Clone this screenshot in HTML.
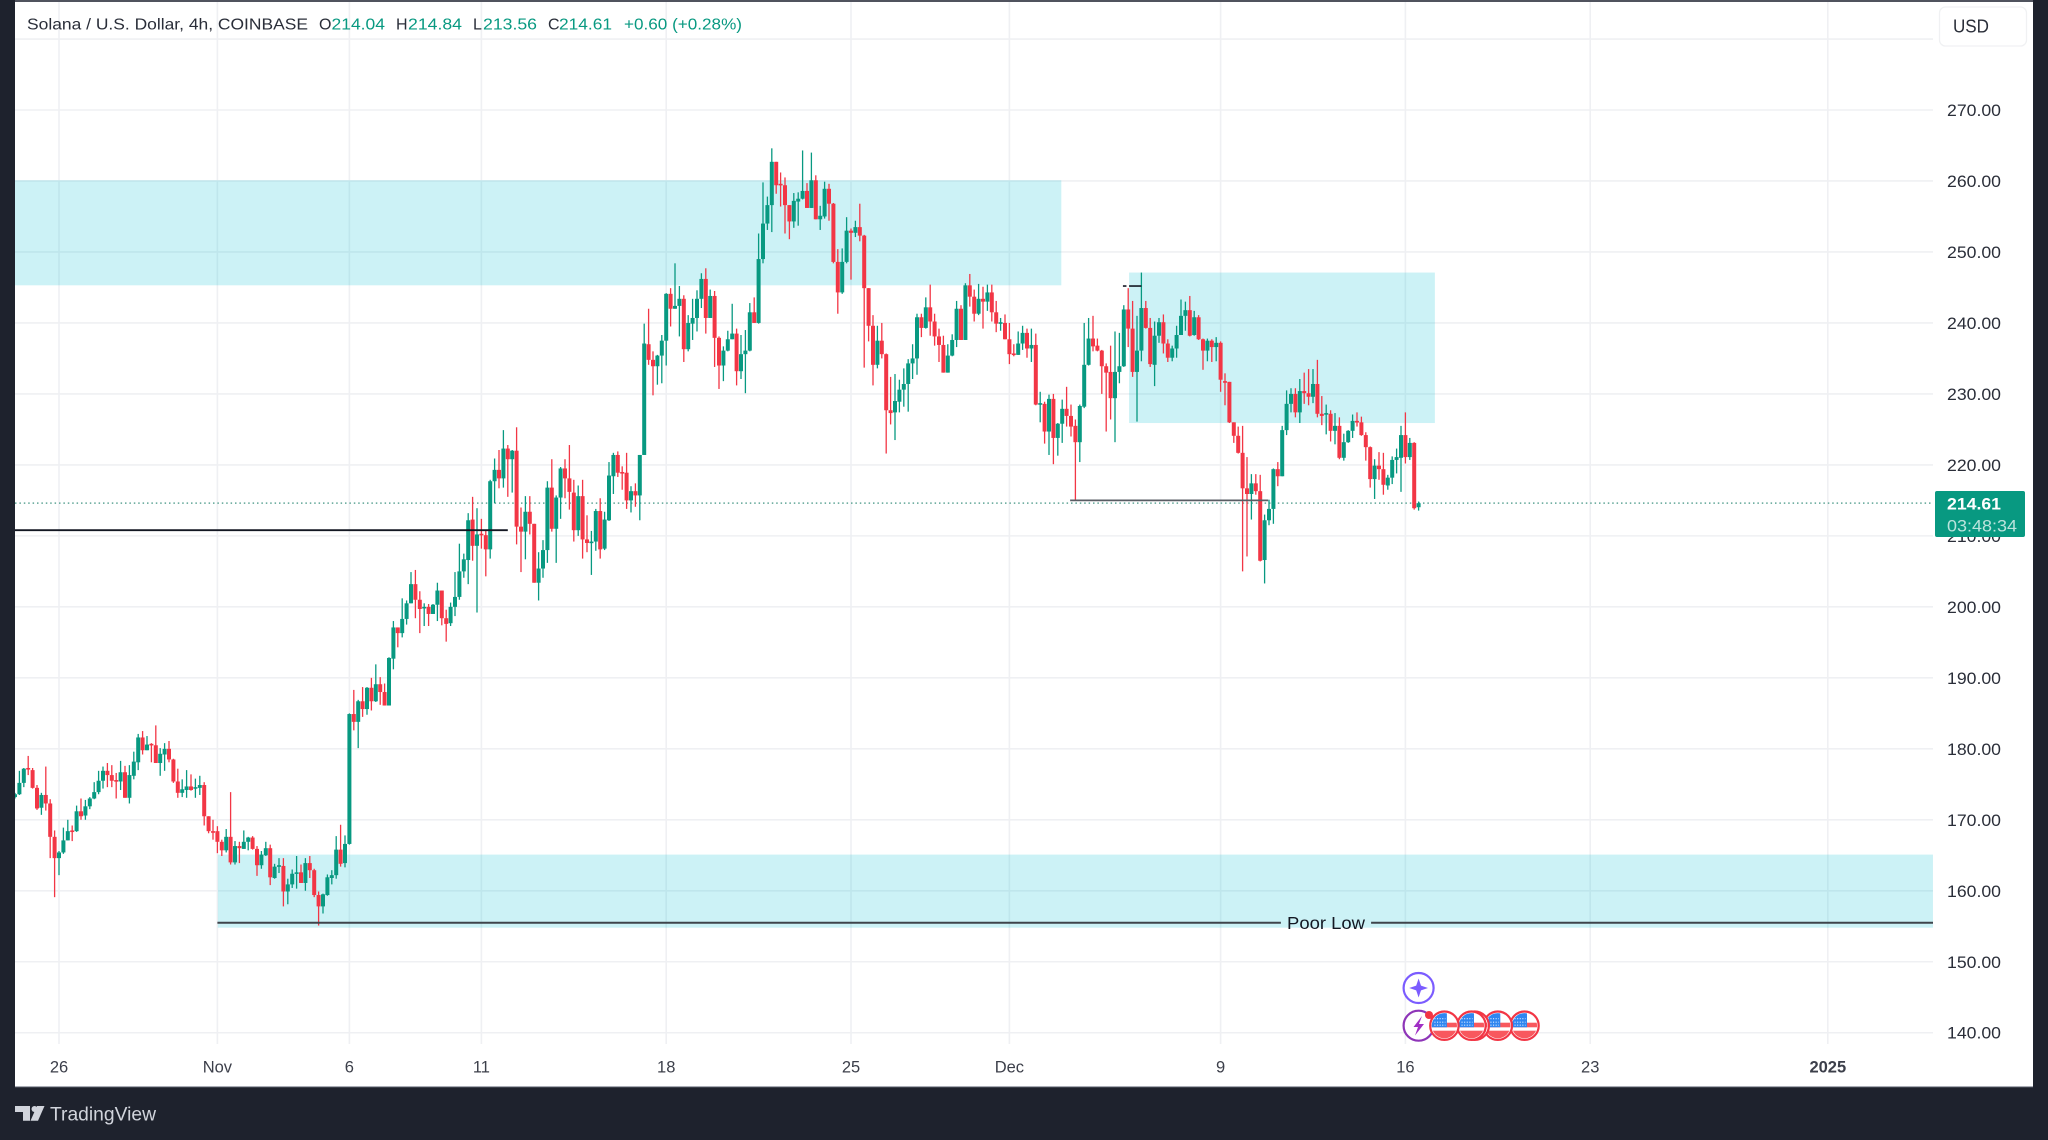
<!DOCTYPE html>
<html lang="en">
<head>
<meta charset="utf-8">
<title>Solana / U.S. Dollar 4h chart</title>
<style>
html,body{margin:0;padding:0;background:#1e222d;width:2048px;height:1140px;overflow:hidden}
svg{display:block}
text{font-family:"Liberation Sans",sans-serif}
</style>
</head>
<body>
<svg id="chart" xmlns="http://www.w3.org/2000/svg" width="2048" height="1140" viewBox="0 0 2048 1140">
  <defs>
    <clipPath id="plot-clip"><rect x="15" y="2" width="1918" height="1042"/></clipPath>
    <clipPath id="flag-clip"><circle cx="0" cy="0" r="12.6"/></clipPath>
    <g id="us-flag">
      <circle cx="0" cy="0" r="14.2" fill="#ffffff" stroke="#f23645" stroke-width="2.2"/>
      <g clip-path="url(#flag-clip)">
        <rect x="-13" y="-3" width="26" height="4.6" fill="#f8585e"/>
        <rect x="-13" y="5" width="26" height="8" fill="#f8585e"/>
        <path d="M-13 -13H2.5V1.6H-13Z" fill="#2f86f0"/>
        <path d="M-10 -7H1M-10 -3.5H1M-10 -0.5H1" stroke="#d8e9ff" stroke-width="1.1" stroke-dasharray="1.1 1.5"/>
      </g>
    </g>
  </defs>

  <rect x="0" y="0" width="2048" height="1140" fill="#1e222d"/>
  <rect x="15" y="1.5" width="2018" height="1085" fill="#ffffff"/>
  <rect x="15" y="0" width="2018" height="2" fill="#50535e"/>
  <rect x="15" y="1086" width="2018" height="1.2" fill="#a9acb5"/>

  <g id="grid-layer"></g>
  <g id="zone-layer" clip-path="url(#plot-clip)"></g>
  <g id="lastline-layer"></g>
  <g id="candle-layer" clip-path="url(#plot-clip)"></g>
  <g id="drawing-layer" clip-path="url(#plot-clip)"></g>

  <text x="1326" y="928.8" font-size="17.5" fill="#131722" text-anchor="middle" textLength="78" lengthAdjust="spacingAndGlyphs">Poor Low</text>

  <g font-size="16" fill="#2a2e39">
    <text x="27" y="29.5" textLength="281" lengthAdjust="spacingAndGlyphs">Solana / U.S. Dollar, 4h, COINBASE</text>
    <text x="319" y="29.5">O</text>
    <text x="331.5" y="29.5" fill="#089981" textLength="53.5" lengthAdjust="spacingAndGlyphs">214.04</text>
    <text x="396" y="29.5">H</text>
    <text x="408" y="29.5" fill="#089981" textLength="54" lengthAdjust="spacingAndGlyphs">214.84</text>
    <text x="473" y="29.5">L</text>
    <text x="483" y="29.5" fill="#089981" textLength="54" lengthAdjust="spacingAndGlyphs">213.56</text>
    <text x="548" y="29.5">C</text>
    <text x="559" y="29.5" fill="#089981" textLength="53" lengthAdjust="spacingAndGlyphs">214.61</text>
    <text x="624" y="29.5" fill="#089981" textLength="118" lengthAdjust="spacingAndGlyphs">+0.60 (+0.28%)</text>
  </g>

  <g>
    <rect x="1939.5" y="7" width="87" height="39" rx="6" fill="#ffffff" stroke="#f0f1f3" stroke-width="1.3"/>
    <text x="1953" y="32.5" font-size="18" fill="#2a2e39" textLength="36" lengthAdjust="spacingAndGlyphs">USD</text>
  </g>

  <g id="price-axis"></g>
  <g id="time-axis"></g>

  <g>
    <rect x="1935" y="491" width="90" height="46" rx="2" fill="#089981"/>
    <text x="1947" y="509.5" font-size="17" font-weight="700" fill="#ffffff" textLength="54" lengthAdjust="spacingAndGlyphs">214.61</text>
    <text x="1947" y="531.5" font-size="17" fill="#ffffff" fill-opacity="0.72" textLength="70" lengthAdjust="spacingAndGlyphs">03:48:34</text>
  </g>

  <g>
    <g>
      <circle cx="1418.6" cy="988" r="15" fill="#ffffff" stroke="#7b5cff" stroke-width="2.2"/>
      <path d="M1418.6 978.5L1421 985.6L1428 988L1421 990.4L1418.6 997.5L1416.2 990.4L1409.2 988L1416.2 985.6Z" fill="#7b5cff"/>
    </g>
    <g>
      <circle cx="1418.6" cy="1025.7" r="15" fill="#ffffff" stroke="#8e35b8" stroke-width="2.2"/>
      <path d="M1422 1016L1413.5 1027H1418L1415 1035.5L1424 1024H1419Z" fill="#a02fc4"/>
    </g>
    <circle cx="1429" cy="1015" r="4" fill="#f23645"/>
    <use href="#us-flag" x="1524.5" y="1025.7"/>
    <use href="#us-flag" x="1497.8" y="1025.7"/>
    <use href="#us-flag" x="1474.7" y="1025.7"/>
    <use href="#us-flag" x="1471.5" y="1025.7"/>
    <use href="#us-flag" x="1444.4" y="1025.7"/>
  </g>

  <g>
    <path d="M15 1106H30V1120.7H23V1112H15Z" fill="#d1d4dc"/>
    <circle cx="34.5" cy="1109" r="3" fill="#d1d4dc"/>
    <path d="M37 1106H44.5L38 1120.7H30.5Z" fill="#d1d4dc"/>
    <text x="50" y="1120.5" font-size="19.5" fill="#d1d4dc" textLength="106" lengthAdjust="spacingAndGlyphs">TradingView</text>
  </g>
</svg>

<script>
const opens = [
173.2,173.6,175.2,177.3,177.0,174.5,171.7,173.5,172.3,167.6,
164.6,165.4,167.1,168.5,168.4,171.2,170.6,171.9,173.0,173.9,
175.5,176.9,176.3,175.6,175.4,176.7,173.1,176.2,178.1,181.6,
179.8,180.7,180.5,178.0,179.2,180.0,178.5,175.4,173.8,174.2,
174.7,174.5,174.5,174.9,170.5,168.4,168.4,166.9,165.7,167.6,
164.0,166.3,165.9,166.9,167.5,165.9,163.6,165.0,166.0,161.8,
163.5,163.5,159.9,160.9,162.4,162.6,161.1,163.9,162.9,159.4,
157.8,159.4,161.8,162.2,165.8,163.9,166.6,
184.9,183.8,186.7,185.6,188.6,186.7,189.1,188.0,186.1,192.7,
197.1,196.3,198.3,200.5,203.2,201.0,199.9,200.0,199.0,200.3,
202.3,198.4,197.7,200.0,201.4,205.0,206.6,212.3,208.6,210.3,
210.1,208.1,217.7,219.3,218.1,222.3,220.8,222.0,211.3,210.6,
213.4,211.7,203.4,205.4,208.0,216.8,211.0,215.4,219.5,218.1,
216.1,210.8,215.6,209.5,209.1,209.2,213.5,208.2,212.2,218.4,
221.4,219.0,218.9,215.0,216.3,215.7,
221.4,237.0,234.8,233.9,235.4,237.5,244.1,242.0,242.4,243.4,
236.3,239.9,240.7,243.4,246.2,240.7,243.8,237.9,234.0,236.1,
237.7,238.5,233.2,235.6,236.1,241.5,240.0,249.0,254.0,256.6,
262.7,259.6,259.4,256.6,254.3,257.1,257.5,258.6,256.2,260.1,
254.6,255.0,258.9,256.8,248.6,244.3,248.6,253.0,252.7,253.5,
252.3,244.9,239.6,234.1,237.5,235.6,227.7,227.4,228.9,230.6,
231.4,234.3,235.0,240.8,239.3,242.2,240.2,238.1,236.9,233.0,
235.4,237.6,242.0,237.6,
245.3,243.7,241.3,243.4,243.0,244.3,241.5,240.0,240.0,237.7,
235.7,235.5,237.1,238.6,236.4,236.9,228.6,228.6,224.7,229.3,
223.8,225.8,227.9,226.9,225.5,223.2,228.2,234.1,237.8,236.8,
236.1,233.9,233.1,229.4,233.1,233.9,241.9,239.2,233.1,236.1,
242.1,239.3,234.1,238.2,240.1,237.1,235.1,236.4,238.3,241.0,
241.8,238.3,240.8,237.7,236.1,237.5,236.6,237.2,231.8,231.7,
226.0,224.1,221.7,
216.7,215.9,217.4,216.3,206.6,212.2,213.8,219.4,218.4,224.9,
228.6,230.0,227.4,230.4,230.1,229.6,231.4,227.2,227.2,227.2,
224.8,225.5,221.0,223.2,224.8,226.2,226.0,224.2,222.5,218.0,
219.9,219.4,217.1,218.2,220.7,221.0,224.2,221.1,223.1,214.04
];
const highs = [
173.8,176.9,177.3,179.0,177.3,174.9,173.8,177.5,172.9,168.5,
165.6,168.9,170.0,169.2,172.0,173.0,172.8,173.2,175.3,176.9,
177.5,178.0,177.7,176.6,178.3,177.6,177.7,179.6,182.1,182.5,
181.8,180.8,183.3,180.1,180.8,181.1,178.6,177.2,175.7,177.0,
176.4,175.8,176.2,175.3,170.5,170.0,169.1,167.2,168.7,173.9,
167.0,166.9,168.5,167.6,167.7,166.3,165.6,166.9,166.5,163.8,
164.6,164.6,161.7,163.0,164.9,163.7,164.6,164.9,163.1,159.9,
159.6,162.3,162.9,167.7,169.3,167.8,185.0,
188.3,186.9,188.7,188.7,190.0,191.9,190.1,189.2,192.9,198.0,
197.1,201.2,200.9,204.9,205.2,202.2,200.5,200.4,200.4,203.4,
202.3,199.6,200.6,204.9,208.9,207.5,213.2,215.5,213.9,212.4,
210.8,217.9,220.9,222.1,224.9,222.8,222.1,225.3,214.0,215.6,
215.6,211.7,207.7,209.4,217.7,220.8,215.7,219.7,220.8,222.8,
217.9,217.1,217.9,212.9,210.7,213.8,215.3,213.4,220.4,221.7,
221.9,219.8,221.7,217.0,217.4,221.4,
239.9,242.0,236.0,235.5,238.3,244.2,244.9,248.4,245.2,243.9,
241.1,243.4,244.6,247.0,247.7,244.7,244.5,238.1,236.7,238.9,
242.7,239.2,238.3,239.0,242.8,243.6,252.6,259.8,257.8,264.6,
262.7,261.2,260.5,256.6,258.3,258.4,264.3,259.7,264.0,260.8,
256.5,259.9,259.6,256.9,250.4,250.5,254.9,253.3,254.4,256.8,
252.4,244.9,241.1,239.6,240.0,235.7,232.4,232.8,232.0,233.6,
234.9,237.0,241.3,241.3,243.6,245.4,241.3,239.2,238.2,237.0,
238.4,243.1,242.5,245.6,
246.9,244.7,245.5,245.1,245.4,245.4,243.1,240.7,241.2,240.0,
237.0,238.8,239.6,239.2,239.2,238.5,230.3,228.9,229.9,230.0,
225.9,229.2,231.0,228.5,226.4,228.5,240.0,240.7,241.0,237.8,
236.2,234.3,236.8,238.8,238.6,242.5,244.9,243.1,241.0,247.1,
243.1,240.7,240.2,240.7,241.2,237.7,236.8,239.6,243.3,243.0,
243.8,241.7,241.1,237.8,237.8,237.7,238.0,237.4,232.9,231.7,
226.0,225.4,225.5,
221.1,218.7,218.7,218.6,213.0,215.1,219.5,220.4,225.5,230.5,
230.8,230.8,232.1,233.0,233.5,233.5,234.8,229.7,228.5,227.7,
227.3,226.7,224.4,224.9,227.1,227.4,226.8,224.6,222.6,220.8,
221.8,221.7,218.6,221.2,222.3,225.5,227.4,223.8,223.2,214.84
];
const lows = [
173.0,173.5,174.6,176.3,174.4,171.4,170.7,171.3,164.6,159.1,
162.2,165.2,167.1,167.0,168.3,170.0,170.0,171.5,172.9,173.6,
174.4,174.6,174.6,173.0,174.2,173.1,172.3,175.7,177.0,179.2,
179.8,178.1,178.0,176.2,176.9,178.1,175.2,173.1,173.2,173.1,
174.1,173.1,173.5,169.2,168.1,167.2,165.3,164.9,165.4,163.7,
163.7,163.9,165.9,165.7,165.8,162.1,163.1,164.9,160.8,161.7,
162.5,157.8,158.1,160.4,160.3,161.1,160.0,161.8,159.1,155.1,
156.8,159.3,160.9,161.7,163.4,163.3,166.5,
182.6,180.1,184.5,184.8,185.4,186.6,186.2,186.1,186.1,191.2,
194.3,195.7,197.5,200.5,198.4,196.3,197.3,197.3,199.0,198.0,
197.4,195.1,197.3,198.7,201.0,204.1,203.2,206.5,199.2,208.2,
204.3,206.8,214.6,216.7,216.8,215.5,216.1,208.8,204.9,206.7,
210.2,203.4,200.9,204.1,206.2,210.6,206.2,212.4,215.3,213.7,
209.2,210.0,206.8,207.7,204.5,207.9,206.8,208.0,212.1,215.9,
218.3,216.5,213.8,213.3,214.1,212.2,
221.4,234.1,229.8,231.3,231.5,234.0,239.5,242.0,238.1,234.5,
236.0,237.6,238.8,242.1,238.5,240.7,233.8,230.7,231.8,236.0,
237.7,231.2,232.1,230.1,236.0,240.0,239.9,248.4,253.1,252.8,
258.2,256.4,252.6,251.8,253.4,253.7,257.4,256.2,256.2,254.6,
253.1,254.7,254.4,248.4,241.3,244.1,248.4,246.1,252.1,251.5,
233.7,237.4,231.2,233.6,235.0,221.6,225.7,223.5,227.4,228.2,
227.5,232.1,232.7,238.0,239.2,238.2,236.8,234.5,233.0,233.0,
235.3,236.6,237.6,237.6,
242.3,240.2,241.1,239.2,241.7,240.2,238.7,238.9,237.7,234.2,
235.3,235.5,236.2,235.1,234.5,228.4,226.0,223.0,221.4,220.1,
221.3,223.1,225.4,224.0,215.0,220.4,228.0,234.0,236.0,236.0,
230.0,224.7,226.4,223.2,231.5,233.8,236.6,232.4,226.1,234.6,
239.2,233.8,231.1,237.2,235.7,234.5,234.6,235.1,238.3,238.9,
238.1,238.2,237.6,233.4,234.6,234.5,234.6,230.3,228.4,225.9,
223.1,221.6,205.0,
207.1,212.3,215.8,206.4,203.3,211.5,211.7,217.0,218.4,224.2,
227.4,226.7,225.9,228.6,228.4,228.7,226.7,225.6,224.3,223.3,
222.9,220.8,220.6,223.1,223.8,225.4,224.1,220.6,216.8,215.2,
217.9,215.8,216.5,217.3,218.8,216.2,220.2,220.7,213.7,213.56
];
const closes = [
173.6,175.2,177.2,177.1,174.5,171.6,173.5,172.3,167.6,164.6,
165.4,167.1,168.4,168.3,171.2,170.5,171.9,173.0,173.9,175.5,
176.9,176.3,175.5,175.4,176.7,173.1,176.3,178.2,181.6,179.8,
180.6,180.6,178.0,179.3,180.0,178.5,175.4,173.8,174.3,174.7,
174.2,174.6,174.9,170.5,168.4,168.3,166.9,165.7,167.6,164.0,
166.3,166.0,166.9,167.5,165.9,163.6,165.1,166.0,161.9,163.4,
163.6,159.9,160.9,162.4,162.6,161.1,163.9,162.9,159.4,157.8,
159.5,161.9,162.2,165.8,163.8,166.6,184.9,
183.8,186.7,185.6,188.6,186.7,189.1,188.0,186.1,192.8,197.1,
196.3,198.3,200.5,203.2,201.0,199.7,200.0,199.0,200.3,202.3,
198.4,197.6,200.0,201.4,205.0,206.7,212.2,208.6,210.2,210.1,
208.1,217.7,219.3,218.1,222.3,220.8,222.0,211.3,210.6,213.4,
211.7,203.4,205.4,208.0,216.8,211.0,215.4,219.5,218.1,216.2,
210.8,215.6,209.5,209.0,209.2,213.5,208.1,212.3,218.5,221.4,
218.9,218.9,215.0,216.3,215.7,221.4,
237.1,234.8,233.9,235.4,237.5,244.1,242.0,242.4,243.4,236.3,
240.0,240.7,243.4,246.2,240.7,243.8,237.9,234.0,236.1,237.7,
238.5,233.2,235.6,236.1,241.5,240.0,249.0,254.0,256.6,262.7,
259.4,259.5,256.6,254.3,257.2,257.5,258.6,256.2,260.1,254.6,
255.1,258.9,256.8,248.6,244.3,248.6,253.0,252.7,253.5,252.3,
244.9,239.6,234.1,237.5,235.6,227.7,227.3,229.0,230.6,231.4,
234.3,235.0,240.8,239.3,242.2,240.2,238.1,236.9,233.0,235.4,
237.6,242.0,237.6,245.3,
243.7,241.3,243.4,243.0,244.3,241.5,239.9,240.1,237.7,235.6,
235.6,237.1,238.6,236.4,236.9,228.5,228.7,224.7,229.3,223.8,
225.8,227.9,226.9,225.4,223.2,228.3,234.1,237.8,236.7,236.1,
233.9,233.0,229.4,233.1,233.9,241.9,239.2,233.1,236.1,242.1,
239.3,234.2,238.2,240.1,237.1,235.1,236.4,238.3,241.0,241.8,
238.2,240.8,237.7,236.1,237.5,236.6,237.2,232.0,231.6,226.0,
224.1,221.7,216.7,
215.9,217.4,216.3,206.5,212.2,213.8,219.4,218.4,224.9,228.6,
230.0,227.4,230.4,230.1,229.6,231.4,227.2,226.9,227.3,224.8,
225.5,221.0,223.2,224.8,226.2,226.0,224.2,222.5,218.0,219.9,
219.4,217.2,218.2,220.7,221.1,224.2,221.1,223.1,213.9,214.61
];
const priceTicks = [270,260,250,240,230,220,210,200,190,180,170,160,150,140];
const gridOnlyPrices = [280];
const timeTickLabels = ["26","Nov","6","11","18","25","Dec","9","16","23","2025"];
const timeTickBars = [10,46,76,106,148,190,226,274,316,358,412];
const zoneNames = ["upper-supply-zone","right-supply-zone","lower-demand-zone"];
const zoneTopPrices = [260.1,247.1,165.1];
const zoneBottomPrices = [245.3,225.9,154.8];
const zoneStartBars = [0,253.2,46.1];
const zoneEndBars = [237.8,322.7,435.9];
const levelNames = ["resistance-line","liquidity-line","sweep-line-stub","sweep-line","poor-low-line-left","poor-low-line-right"];
const levelPrices = [210.8,215.0,245.2,245.2,155.5,155.5];
const levelStartBars = [0,239.8,251.8,253.2,46,308.2];
const levelEndBars = [112,284.8,252.6,256,287.7,436];
const levelColors = ["#131722","#5a5d64","#131722","#131722","#3f444b","#3f444b"];
const levelWidths = [1.8,1.8,1.6,1.6,2,2];

const SVGNS = "http://www.w3.org/2000/svg";
const UP = "#089981", DOWN = "#f23645";
function xOf(bar){ return 59 + (bar - 10) * 4.4; }
function yOf(price){ return 110 + (270 - price) * 7.098; }
function mk(tag, attrs, parent){
  const el = document.createElementNS(SVGNS, tag);
  for (const k in attrs) el.setAttribute(k, attrs[k]);
  parent.appendChild(el);
  return el;
}

const gridLayer = document.getElementById("grid-layer");
const priceAxis = document.getElementById("price-axis");
const timeAxis = document.getElementById("time-axis");
const zoneLayer = document.getElementById("zone-layer");
const lastLineLayer = document.getElementById("lastline-layer");
const candleLayer = document.getElementById("candle-layer");
const drawingLayer = document.getElementById("drawing-layer");

gridOnlyPrices.concat(priceTicks).forEach(function(p){
  const line = mk("line", {x1:15, x2:1933, y1:yOf(p), y2:yOf(p), stroke:"#eff0f3", "stroke-width":1.6}, gridLayer);
  
  
});
timeTickBars.forEach(function(b){
  const line = mk("line", {x1:xOf(b), x2:xOf(b), y1:2, y2:1044, stroke:"#eff0f3", "stroke-width":1.6}, gridLayer);
  
  
});

priceTicks.forEach(function(p){
  const t = mk("text", {x:1947, y:yOf(p)+6, "font-size":17, fill:"#2a2e39", textLength:54, lengthAdjust:"spacingAndGlyphs"}, priceAxis);
  
  
  t.textContent = p.toFixed(2);
});

timeTickLabels.forEach(function(label, i){
  const t = mk("text", {x:xOf(timeTickBars[i]), y:1072.5, "font-size":16.5, fill:"#3c3f4a", "text-anchor":"middle"}, timeAxis);
  
  
  if (label === "2025") t.setAttribute("font-weight", "700");
  t.textContent = label;
});

zoneNames.forEach(function(name, i){
  const top = yOf(zoneTopPrices[i]), bottom = yOf(zoneBottomPrices[i]);
  const left = xOf(zoneStartBars[i]), right = xOf(zoneEndBars[i]);
  const r = mk("rect", {x:left, y:top, width:right-left, height:bottom-top, fill:"#00bcd4", "fill-opacity":0.2}, zoneLayer);
  
  
});

const lastClose = closes[closes.length - 1];
const lastLine = mk("line", {x1:15, x2:1933, y1:yOf(lastClose), y2:yOf(lastClose), stroke:"#5fa596", "stroke-width":1.5, "stroke-dasharray":"1.5 2.9"}, lastLineLayer);



opens.forEach(function(o, i){
  const c = closes[i], h = highs[i], l = lows[i];
  const color = c >= o ? UP : DOWN;
  const x = xOf(i);
  const g = mk("g", {}, candleLayer);
  
  
  const wick = mk("line", {x1:x, x2:x, y1:yOf(h), y2:yOf(l), stroke:color, "stroke-width":1.3}, g);
  
  
  const top = yOf(Math.max(o, c));
  const height = Math.max(1.6, Math.abs(yOf(o) - yOf(c)));
  const body = mk("rect", {x:x-2, y:top, width:4, height:height, fill:color}, g);
  
  
});

levelNames.forEach(function(name, i){
  const y = yOf(levelPrices[i]);
  const line = mk("line", {x1:xOf(levelStartBars[i]), x2:xOf(levelEndBars[i]), y1:y, y2:y, stroke:levelColors[i], "stroke-width":levelWidths[i]}, drawingLayer);
  
  
});
</script>
</body>
</html>
